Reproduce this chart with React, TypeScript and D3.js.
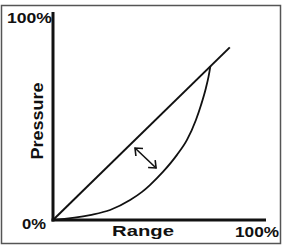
import React from "react";
import * as d3 from "d3";

const diagonalLine: [number, number][] = [
  [0, 0],
  [83, 83],
];

const curveX = [0, 17.4, 26.8, 36.2, 41.8, 45.5, 51.6, 58.2, 62.9, 67.1, 69.5, 71.8, 73.0, 73.9];
const curveY = [0, 2.4, 4.8, 9.6, 13.5, 16.8, 23.1, 31.3, 38.5, 48.1, 55.3, 63.5, 68.8, 74.0];

const arrowFrom: [number, number] = [38.5, 34.6];
const arrowTo: [number, number] = [48.4, 25];

const yTickLabels = ["0%", "100%"];
const xTickLabels = ["100%"];
const xTitle = "Range";
const yTitle = "Pressure";

const W = 284;
const H = 245;

export default function App() {
  const x = d3.scaleLinear().domain([0, 100]).range([53, 266]);
  const y = d3.scaleLinear().domain([0, 100]).range([220, 12]);

  const line = d3
    .line<[number, number]>()
    .x((d) => x(d[0]))
    .y((d) => y(d[1]));
  const curvePts: [number, number][] = curveX.map((v, i) => [v, curveY[i]]);
  const curveLine = d3
    .line<[number, number]>()
    .x((d) => x(d[0]))
    .y((d) => y(d[1]))
    .curve(d3.curveMonotoneX);

  const ax1 = x(arrowFrom[0]);
  const ay1 = y(arrowFrom[1]);
  const ax2 = x(arrowTo[0]);
  const ay2 = y(arrowTo[1]);
  const ang = Math.atan2(ay2 - ay1, ax2 - ax1);
  const hl = 8;
  const spread = Math.PI / 4.5;
  const head = (px: number, py: number, a: number) =>
    `M${px + hl * Math.cos(a + spread)},${py + hl * Math.sin(a + spread)}L${px},${py}L${
      px + hl * Math.cos(a - spread)
    },${py + hl * Math.sin(a - spread)}`;

  const font = "'Liberation Sans', Arial, Helvetica, sans-serif";

  return (
    <svg
      width={W}
      height={H}
      style={{ position: "absolute", left: 0, top: 0, background: "#fff" }}
      fontFamily={font}
      fontWeight="bold"
    >
      <rect x={1.5} y={5.5} width={279} height={238} fill="#fff" stroke="#555" strokeWidth={1.5} />
      {/* axes */}
      <line x1={x(0)} y1={y(100)} x2={x(0)} y2={y(0) + 1.5} stroke="#111" strokeWidth={3} />
      <line x1={x(0) - 1.5} y1={y(0)} x2={x(100)} y2={y(0)} stroke="#111" strokeWidth={3} />
      {/* diagonal */}
      <path d={line(diagonalLine) || ""} fill="none" stroke="#111" strokeWidth={2} />
      {/* curve */}
      <path d={curveLine(curvePts) || ""} fill="none" stroke="#111" strokeWidth={1.8} />
      {/* arrow */}
      <line x1={ax1} y1={ay1} x2={ax2} y2={ay2} stroke="#111" strokeWidth={1.6} />
      <path d={head(ax1, ay1, ang)} fill="none" stroke="#111" strokeWidth={1.6} />
      <path d={head(ax2, ay2, ang + Math.PI)} fill="none" stroke="#111" strokeWidth={1.6} />
      {/* labels */}
      <text x={7} y={23} fontSize={14} textLength={45} lengthAdjust="spacingAndGlyphs" fill="#111">
        {yTickLabels[1]}
      </text>
      <text x={22} y={229} fontSize={14} textLength={24} lengthAdjust="spacingAndGlyphs" fill="#111">
        {yTickLabels[0]}
      </text>
      <text x={112} y={236} fontSize={14} textLength={62} lengthAdjust="spacingAndGlyphs" fill="#111">
        {xTitle}
      </text>
      <text x={235} y={237} fontSize={14} textLength={44} lengthAdjust="spacingAndGlyphs" fill="#111">
        {xTickLabels[0]}
      </text>
      <text
        transform="translate(43,121) rotate(-90)"
        textAnchor="middle"
        fontSize={16}
        textLength={77}
        lengthAdjust="spacingAndGlyphs"
        fill="#111"
      >
        {yTitle}
      </text>
    </svg>
  );
}
